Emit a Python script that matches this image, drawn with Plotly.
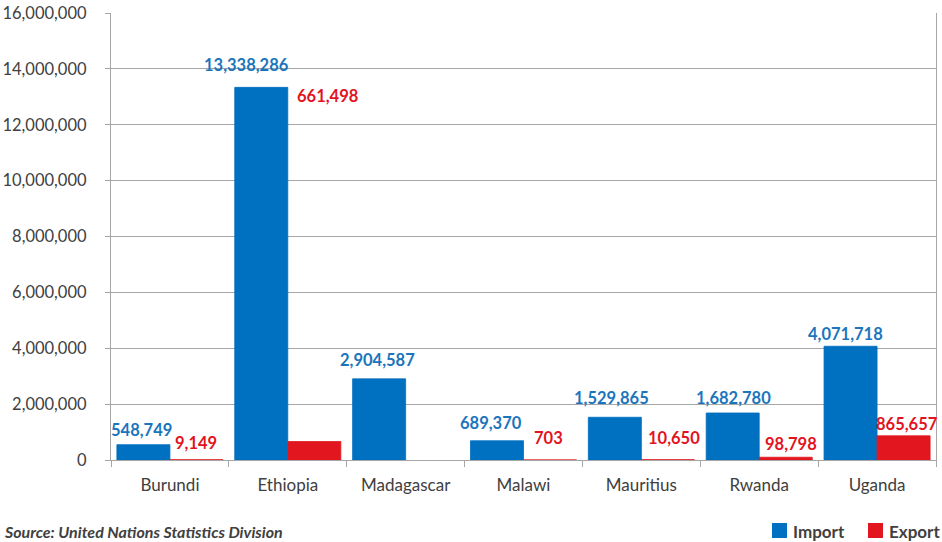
import plotly.graph_objects as go

# Trade values by country (units as reported)
countries = ["Burundi", "Ethiopia", "Madagascar", "Malawi", "Mauritius", "Rwanda", "Uganda"]
imports = [548749, 13338286, 2904587, 689370, 1529865, 1682780, 4071718]
exports = [9149, 661498, None, 703, 10650, 98798, 865657]

y_ticks = [0, 2000000, 4000000, 6000000, 8000000, 10000000, 12000000, 14000000, 16000000]

BLUE = "#0070C0"
RED = "#E1161F"
LABEL_BLUE = "#1B75BC"
LABEL_RED = "#E2131E"
TEXT = "#404040"
GRID = "#A6A6A6"
FONT = "Lato"

W, H = 942, 542
ML, MR, MT, MB = 111, 6, 13, 82
PW, PH = W - ML - MR, H - MT - MB


def px_to_paper(px, py):
    """Convert window pixel coordinates to paper coordinates."""
    return (px - ML) / PW, (H - MB - py) / PH


fig = go.Figure()
fig.add_trace(go.Bar(
    name="Import", x=countries, y=imports,
    marker=dict(color=BLUE, line=dict(color=BLUE, width=0.8)),
))
fig.add_trace(go.Bar(
    name="Export", x=countries, y=exports,
    marker=dict(color=RED, line=dict(color=RED, width=0.8)),
))

# value labels: (xshift, yshift) in pixels relative to the top of each bar
half = 26.5
import_offsets = [(-2, 15), (-15, 22), (-2, 19), (-6, 18), (-3, 19), (1, 15), (-5, 12)]
export_offsets = [(0, 17), (13, 346), (0, 0), (-2, 22), (6, 22), (5, 13), (3, 12)]

annotations = []
for c, v, (dx, dy) in zip(countries, imports, import_offsets):
    annotations.append(dict(
        x=c, y=v, xref="x", yref="y", text=f"{v:,}", showarrow=False,
        xanchor="center", yanchor="middle", xshift=-half + dx, yshift=dy,
        font=dict(family=FONT, size=16.5, color=LABEL_BLUE, weight="bold"),
    ))
for c, v, (dx, dy) in zip(countries, exports, export_offsets):
    if v is None:
        continue
    annotations.append(dict(
        x=c, y=v, xref="x", yref="y", text=f"{v:,}", showarrow=False,
        xanchor="center", yanchor="middle", xshift=half + dx, yshift=dy,
        font=dict(family=FONT, size=16.5, color=LABEL_RED, weight="bold"),
    ))

# source note
sx, sy = px_to_paper(2, 531)
annotations.append(dict(
    x=sx, y=sy, xref="paper", yref="paper", showarrow=False,
    xanchor="left", yanchor="middle",
    text="<b><i>Source: United Nations Statistics Division</i></b>",
    font=dict(family=FONT, size=16, color=TEXT),
))

# legend drawn as swatches + labels
shapes = []
for name, color, x0 in [("Import", BLUE, 772), ("Export", RED, 868)]:
    ax0, ay0 = px_to_paper(x0, 538)
    ax1, ay1 = px_to_paper(x0 + 15, 523)
    shapes.append(dict(type="rect", xref="paper", yref="paper",
                       x0=ax0, y0=ay0, x1=ax1, y1=ay1,
                       fillcolor=color, line=dict(width=0)))
    tx, ty = px_to_paper(x0 + 19, 531)
    annotations.append(dict(
        x=tx, y=ty, xref="paper", yref="paper", showarrow=False,
        xanchor="left", yanchor="middle", text=f"<b>{name}</b>",
        font=dict(family=FONT, size=17, color=TEXT),
    ))

fig.update_layout(
    width=W, height=H,
    margin=dict(l=ML, r=MR, t=MT, b=MB, autoexpand=False),
    paper_bgcolor="white", plot_bgcolor="white",
    barmode="group", bargap=0.1, bargroupgap=0,
    font=dict(family=FONT, color=TEXT),
    showlegend=False,
    annotations=annotations,
    shapes=shapes,
)

fig.update_xaxes(
    type="category", range=[-0.5, 6.5],
    showline=True, linecolor=GRID, linewidth=1.3,
    ticks="outside", tickson="boundaries", ticklen=6, tickcolor=GRID,
    tickfont=dict(family=FONT, size=17, color=TEXT),
    showgrid=False, ticklabelstandoff=9,
)
fig.update_yaxes(
    range=[0, 16000000], tickvals=y_ticks,
    ticktext=[f"{t:,}" for t in y_ticks],
    showline=True, mirror=True, linecolor=GRID, linewidth=1.3,
    ticks="outside", ticklen=5, tickcolor=GRID,
    showgrid=True, gridcolor=GRID, gridwidth=1.3,
    tickfont=dict(family=FONT, size=16.5, color=TEXT),
    ticklabelstandoff=15, zeroline=False,
)

fig.write_html("out.html")
